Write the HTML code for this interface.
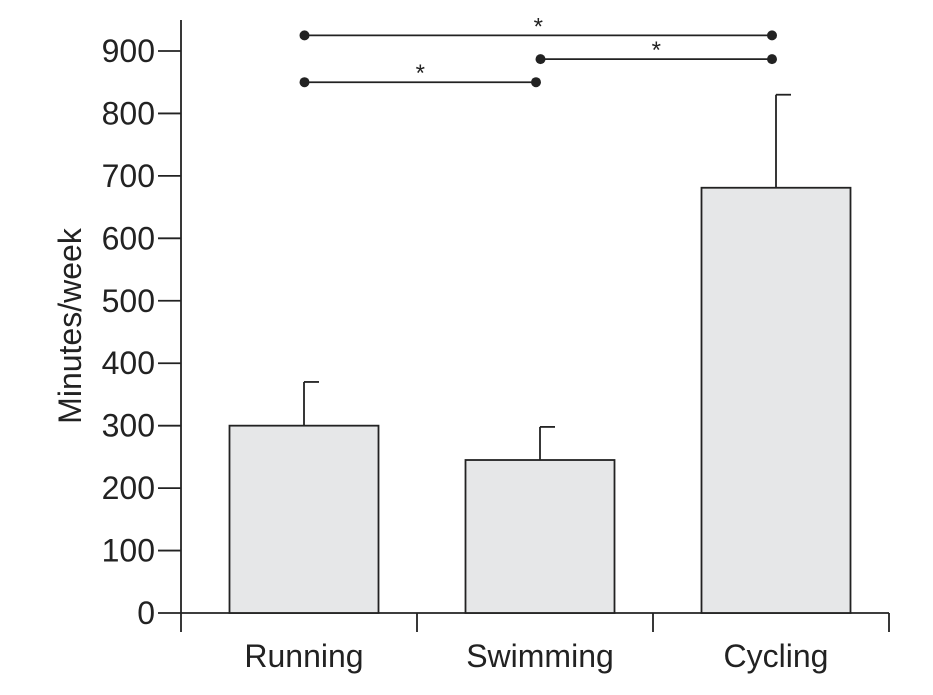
<!DOCTYPE html>
<html><head><meta charset="utf-8"><style>
html,body{margin:0;padding:0;background:#fff;}
svg{display:block;font-family:"Liberation Sans",Arial,sans-serif;}
</style></head><body>
<svg id="chart" width="933" height="695" viewBox="0 0 933 695"></svg>
<script>
const categories = ["Running","Swimming","Cycling"];
const means = [300, 245, 681];
const errors = [70, 53, 149];
const yTicks = [0,100,200,300,400,500,600,700,800,900];
const sigPairs = [[0,2],[1,2],[0,1]];
const sigLevels = [925, 887, 850];

const NS="http://www.w3.org/2000/svg";
const svg=document.getElementById('chart');
const x0=181,x1=889,y0=613,pxPer=562/900;
const band=(x1-x0)/categories.length;
const Y=v=>y0-v*pxPer;
const Xc=i=>x0+band*(i+0.5)+5;
function mk(t,a){const e=document.createElementNS(NS,t);for(const k in a)e.setAttribute(k,a[k]);svg.appendChild(e);return e;}

let e=mk('line',{x1:x0,y1:20,x2:x0,y2:y0,stroke:'#222','stroke-width':1.8});


e=mk('line',{x1:x0,y1:y0,x2:x1,y2:y0,stroke:'#222','stroke-width':1.8});


for(let i=0;i<=categories.length;i++){
  e=mk('line',{x1:x0+band*i,y1:y0,x2:x0+band*i,y2:632,stroke:'#222','stroke-width':1.8});
  
  
}
yTicks.forEach(v=>{
  e=mk('line',{x1:x0-23,y1:Y(v),x2:x0,y2:Y(v),stroke:'#222','stroke-width':1.8});
  
  
  e=mk('text',{x:155,y:Y(v)+11,'text-anchor':'end','font-size':32,fill:'#222'});
  e.textContent=v;
  
  
});
e=mk('text',{transform:'translate(81,326) rotate(-90)','text-anchor':'middle','font-size':32,fill:'#222'});
e.textContent='Minutes/week';



const bw=149;
categories.forEach((c,i)=>{
  const cx=Xc(i);
  e=mk('line',{x1:cx,y1:Y(means[i]+errors[i]),x2:cx,y2:Y(means[i]),stroke:'#222','stroke-width':1.8});
  
  
  e=mk('line',{x1:cx,y1:Y(means[i]+errors[i]),x2:cx+15,y2:Y(means[i]+errors[i]),stroke:'#222','stroke-width':1.8});
  
  
  e=mk('rect',{x:cx-bw/2,y:Y(means[i]),width:bw,height:y0-Y(means[i]),fill:'#e6e7e8',stroke:'#222','stroke-width':1.8});
  
  
  e=mk('text',{x:cx,y:667,'text-anchor':'middle','font-size':32,fill:'#222'});
  e.textContent=c;
  
  
});
sigPairs.forEach((p,k)=>{
  const xa=Xc(p[0])+0.5, xb=Xc(p[1])-4, yy=Y(sigLevels[k]);
  e=mk('line',{x1:xa,y1:yy,x2:xb,y2:yy,stroke:'#222','stroke-width':1.8});
  
  
  [xa,xb].forEach(x=>{
    e=mk('circle',{cx:x,cy:yy,r:5,fill:'#222'});
    
    
  });
  e=mk('text',{x:(xa+xb)/2,y:yy-1,'text-anchor':'middle','font-size':24,fill:'#222'});
  e.textContent='*';
  
  
});
</script>
</body></html>
